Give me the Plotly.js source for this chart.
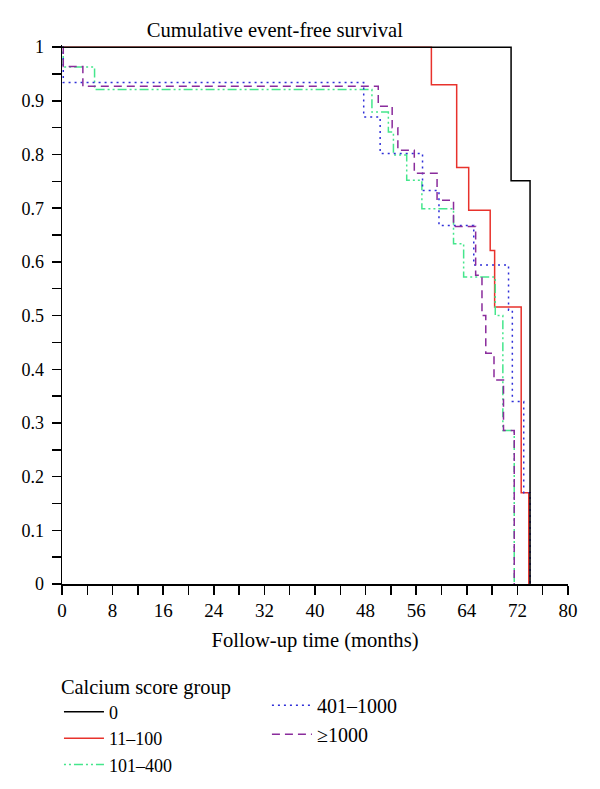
<!DOCTYPE html>
<html>
<head>
<meta charset="utf-8">
<script src="https://cdn.plot.ly/plotly-3.0.1.min.js"></script>
<style>html,body{margin:0;padding:0;background:#fff;}#chart{width:600px;height:789px;}</style>
</head>
<body>
<div id="chart"></div>
<script>
// Group names (legend labels)
const groupNames = ['0', '11\u2013100', '101\u2013400', '401\u20131000', '\u22651000'];

// Kaplan-Meier step curves: event times (months) and survival after each step
const time0 = [0, 71.0, 74.0];
const surv0 = [1, 0.751, 0];

const time11to100 = [0, 58.4, 62.4, 64.3, 67.7, 68.4, 72.6, 73.8];
const surv11to100 = [1, 0.930, 0.776, 0.696, 0.621, 0.516, 0.170, 0];

const time101to400 = [0, 0.2, 5.15, 49.0, 51.6, 52.4, 54.5, 56.9, 61.9, 63.5, 68.5, 69.7, 71.5];
const surv101to400 = [1, 0.963, 0.921, 0.879, 0.842, 0.799, 0.752, 0.699, 0.634, 0.572, 0.500, 0.286, 0];

const time401to1000 = [0, 0.2, 47.7, 50.3, 57.0, 59.6, 65.1, 70.6, 71.2, 73.0, 74.0];
const surv401to1000 = [1, 0.934, 0.870, 0.802, 0.733, 0.668, 0.594, 0.510, 0.340, 0.170, 0];

const time1000 = [0, 0.2, 3.3, 50.0, 52.2, 53.1, 55.7, 59.3, 61.9, 65.4, 66.4, 67.0, 68.3, 69.8, 71.5];
const surv1000 = [1, 0.964, 0.927, 0.890, 0.850, 0.808, 0.765, 0.715, 0.666, 0.575, 0.500, 0.430, 0.380, 0.286, 0];

// Axis ticks
const xTickVals = [0, 8, 16, 24, 32, 40, 48, 56, 64, 72, 80];
const yTickVals = [0, 0.1, 0.2, 0.3, 0.4, 0.5, 0.6, 0.7, 0.8, 0.9, 1];
const yTickText = ['0', '0.1', '0.2', '0.3', '0.4', '0.5', '0.6', '0.7', '0.8', '0.9', '1'];

const serif = 'Liberation Serif, Times New Roman, serif';

function stepTrace(x, y, name, color, dash, legend, rank) {
  return {
    x: x, y: y, name: name, type: 'scatter', mode: 'lines',
    line: {shape: 'hv', color: color, width: 1.5, dash: dash},
    legend: legend, legendrank: rank, hoverinfo: 'skip'
  };
}

const data = [
  stepTrace(time11to100, surv11to100, groupNames[1], '#e8322c', 'solid', 'legend', 2),
  stepTrace(time101to400, surv101to400, groupNames[2], '#45e68c', '2px,3px,2px,3px,9px,3px', 'legend', 3),
  stepTrace(time401to1000, surv401to1000, groupNames[3], '#2f2fd8', '2px,4px', 'legend2', 4),
  stepTrace(time1000, surv1000, groupNames[4], '#8a2c9c', '8px,5px', 'legend2', 5),
  stepTrace(time0, surv0, groupNames[0], '#000000', 'solid', 'legend', 1)
];

const layout = {
  width: 600, height: 789,
  paper_bgcolor: '#ffffff', plot_bgcolor: '#ffffff',
  margin: {l: 62, r: 32, t: 45, b: 205, pad: 0, autoexpand: false},
  font: {family: serif, size: 18, color: '#000'},
  title: {
    text: 'Cumulative event-free survival',
    font: {family: serif, size: 20.6, color: '#000'},
    x: 0.458, xref: 'container', xanchor: 'center',
    y: 0.962, yref: 'container', yanchor: 'middle'
  },
  xaxis: {
    range: [0, 80], autorange: false,
    tickmode: 'array', tickvals: xTickVals,
    ticks: 'outside', ticklen: 9, tickwidth: 1.5, tickcolor: '#000',
    minor: {dtick: 4, tick0: 0, ticks: 'outside', ticklen: 9, tickwidth: 1.5, tickcolor: '#000', showgrid: false},
    showline: true, linecolor: '#000', linewidth: 1.5, mirror: false,
    showgrid: false, zeroline: false,
    tickfont: {family: serif, size: 19, color: '#000'},
    title: {text: 'Follow-up time (months)', font: {family: serif, size: 20.6, color: '#000'}, standoff: 12}
  },
  yaxis: {
    range: [0, 1.004], autorange: false,
    tickmode: 'array', tickvals: yTickVals, ticktext: yTickText,
    ticks: 'outside', ticklen: 9, tickwidth: 1.5, tickcolor: '#000',
    minor: {dtick: 0.05, tick0: 0, ticks: 'outside', ticklen: 9, tickwidth: 1.5, tickcolor: '#000', showgrid: false},
    showline: true, linecolor: '#000', linewidth: 1.5, mirror: false,
    showgrid: false, zeroline: false,
    tickfont: {family: serif, size: 18, color: '#000'},
    ticklabelstandoff: 4
  },
  showlegend: true,
  legend: {
    title: {text: 'Calcium score group', font: {family: serif, size: 20.4, color: '#000'}},
    orientation: 'v', x: -0.006, xanchor: 'left', y: -0.154, yanchor: 'top',
    xref: 'paper', yref: 'paper', itemwidth: 40,
    font: {family: serif, size: 18, color: '#000'},
    bgcolor: 'rgba(0,0,0,0)', borderwidth: 0, tracegroupgap: 0, traceorder: 'normal'
  },
  legend2: {
    orientation: 'v', x: 0.405, xanchor: 'left', y: -0.189, yanchor: 'top',
    xref: 'paper', yref: 'paper', itemwidth: 40,
    font: {family: serif, size: 20, color: '#000'},
    bgcolor: 'rgba(0,0,0,0)', borderwidth: 0, tracegroupgap: 0, traceorder: 'normal'
  }
};

Plotly.newPlot('chart', data, layout, {staticPlot: true, displayModeBar: false});
</script>
</body>
</html>
